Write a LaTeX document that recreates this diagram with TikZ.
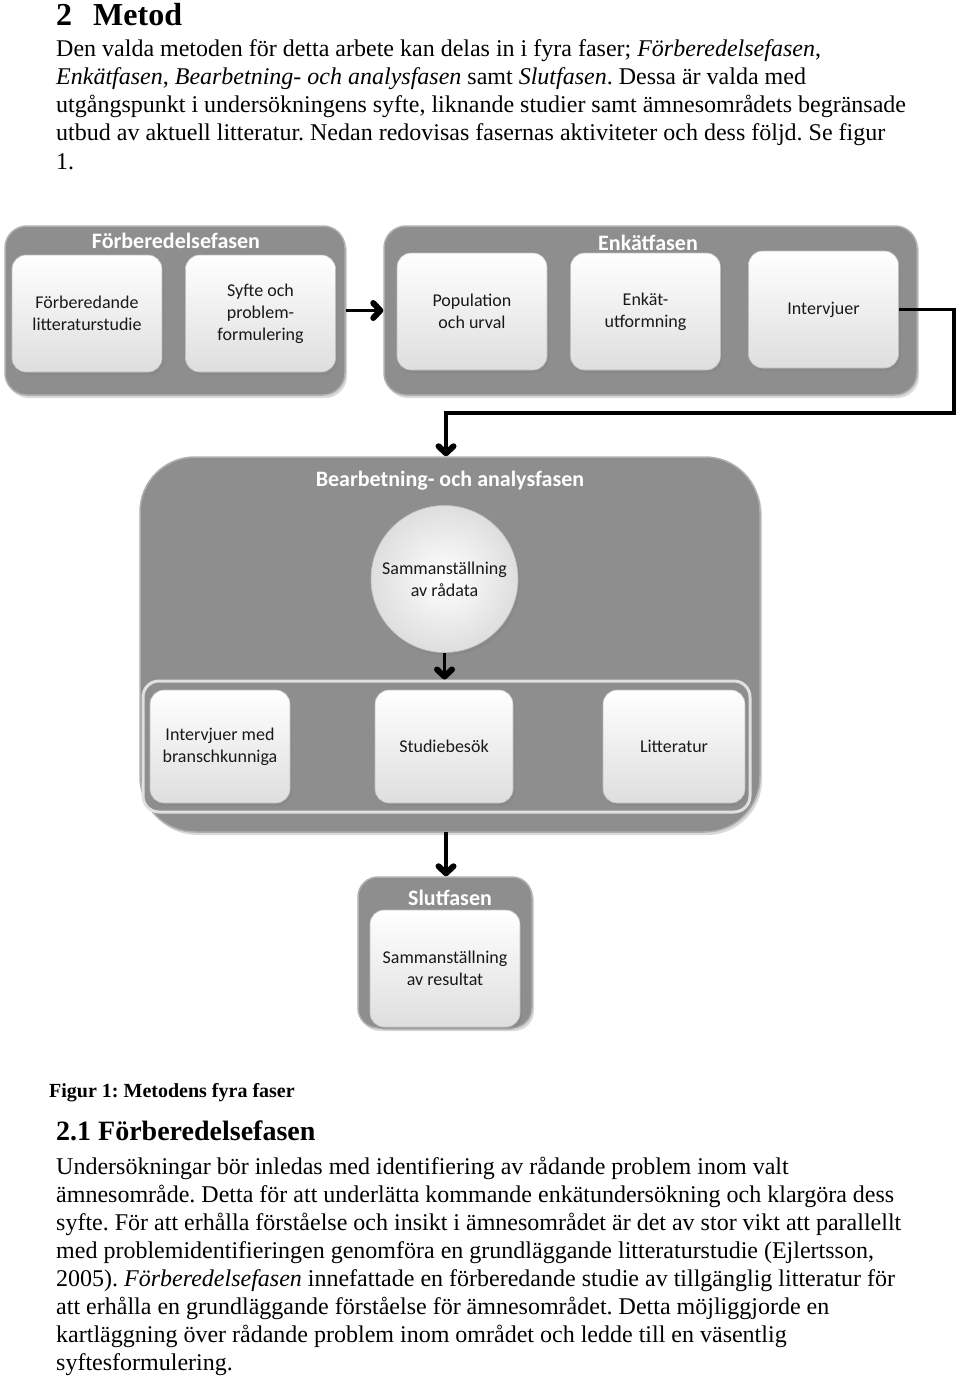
\documentclass[tikz,border=0pt]{standalone}
\usepackage{fontspec}
\setmainfont{Liberation Serif}
\newfontfamily\boxfont{Carlito}
\usetikzlibrary{arrows.meta,shadows}

\definecolor{phasegray}{RGB}{142,142,142}
\definecolor{phaserim}{RGB}{175,175,175}
\definecolor{boxgray}{RGB}{222,222,222}
\definecolor{boxedge}{RGB}{190,190,190}

\newcommand\boxtext{\boxfont\fontsize{18}{22}\selectfont}
\newcommand\boxtitle{\boxfont\bfseries\fontsize{22}{26}\selectfont}
\newcommand\bodytext{\frenchspacing\fontsize{24}{28}\selectfont}

\begin{document}
\begin{tikzpicture}[x=1pt,y=-1pt,
    phase/.style={draw=phaserim,line width=1.5pt,fill=phasegray,rounded corners=22pt,
      drop shadow={opacity=.3,shadow xshift=2pt,shadow yshift=-3pt}},
    stepbox/.style={draw=boxedge,line width=.6pt,rounded corners=14pt,
      top color=white,bottom color=boxgray,minimum width=150pt,minimum height=117pt,
      align=center,font=\boxtext,text=black!90,
      drop shadow={opacity=.35,shadow xshift=2pt,shadow yshift=-3pt}},
    phasetitle/.style={text=white,font=\boxtitle,inner sep=0pt},
    flow/.style={draw=black,line width=3.5pt,
      -{Straight Barb[length=7pt,width=15pt,line width=6pt,round]}}]

  \useasboundingbox (0,0) rectangle (960,1378);

  % page text
  \begin{scope}[every node/.style={anchor=base west,inner sep=0pt,font=\bodytext}]
    \node[font=\fontsize{32}{36}\selectfont\bfseries] (h1) at (56,26) {2\hspace{21pt}Metod};
    \node (p1) at (56,57)  {Den valda metoden för detta arbete kan delas in i fyra faser; \textit{Förberedelsefasen},};
    \node (p2) at (56,85)  {\textit{Enkätfasen}, \textit{Bearbetning- och analysfasen} samt \textit{Slutfasen}. Dessa är valda med};
    \node (p3) at (56,113) {utgångspunkt i undersökningens syfte, liknande studier samt ämnesområdets begränsade};
    \node (p4) at (56,141) {utbud av aktuell litteratur. Nedan redovisas fasernas aktiviteter och dess följd. Se figur};
    \node (p5) at (56,169) {1.};

    \node[font=\frenchspacing\fontsize{20}{24}\selectfont\bfseries] (cap) at (49,1097) {Figur 1: Metodens fyra faser};
    \node[font=\fontsize{28}{32}\selectfont\bfseries] (h2) at (56,1140) {2.1 Förberedelsefasen};
    \node (q1) at (56,1174) {Undersökningar bör inledas med identifiering av rådande problem inom valt};
    \node (q2) at (56,1202) {ämnesområde. Detta för att underlätta kommande enkätundersökning och klargöra dess};
    \node (q3) at (56,1230) {syfte. För att erhålla förståelse och insikt i ämnesområdet är det av stor vikt att parallellt};
    \node (q4) at (56,1258) {med problemidentifieringen genomföra en grundläggande litteraturstudie (Ejlertsson,};
    \node (q5) at (56,1286) {2005). \textit{Förberedelsefasen} innefattade en förberedande studie av tillgänglig litteratur för};
    \node (q6) at (56,1314) {att erhålla en grundläggande förståelse för ämnesområdet. Detta möjliggjorde en};
    \node (q7) at (56,1342) {kartläggning över rådande problem inom området och ledde till en väsentlig};
    \node (q8) at (56,1370) {syftesformulering.};
  \end{scope}

  % phases
  \node[phase,minimum width=340pt,minimum height=169pt] (forb)  at (175,310.5) {};
  \node[phase,minimum width=533pt,minimum height=169pt] (enk)   at (650.5,310.5) {};
  \node[phase,rounded corners=55pt,minimum width=620pt,minimum height=375pt] (bearb) at (450,644.5) {};
  \node[phase,rounded corners=20pt,minimum width=174pt,minimum height=151pt] (slut)  at (445,952.5) {};

  \node[phasetitle] (t1) at (176,241) {Förberedelsefasen};
  \node[phasetitle] (t2) at (648,243) {Enkätfasen};
  \node[phasetitle] (t3) at (450,481) {Bearbetning- och analysfasen};
  \node[phasetitle] (t4) at (450,898) {Slutfasen};

  \node[draw=white!88!black,line width=3pt,fill=phasegray,rounded corners=16pt,
        minimum width=607pt,minimum height=131pt] (grp) at (446.5,746.5) {};

  % steps
  \begin{scope}[every node/.style={stepbox}]
    \node (b1) at (87,313.5)    {Förberedande\\litteraturstudie};
    \node (b2) at (260.5,313.5) {Syfte och\\problem-\\formulering};
    \node (b3) at (472,311.5)   {Population\\och urval};
    \node (b4) at (645.5,311.5) {Enkät-\\utformning};
    \node (b5) at (823.5,309.5) {Intervjuer};

    \node[minimum width=140pt,minimum height=113pt] (s1) at (220,746.5) {Intervjuer med\\branschkunniga};
    \node[minimum width=138pt,minimum height=113pt] (s2) at (444,746.5) {Studiebesök};
    \node[minimum width=142pt,minimum height=113pt] (s3) at (674,746.5) {Litteratur};

    \node (r1) at (445,968.5) {Sammanställning\\av resultat};
  \end{scope}

  \node[circle,draw=boxedge,line width=.6pt,inner color=white,outer color=boxgray,
        minimum size=147pt,align=center,font=\boxtext,text=black!90,
        drop shadow={opacity=.35,shadow xshift=2pt,shadow yshift=-3pt}] (c1) at (444.5,579) {Sammanställning\\av rådata};

  % flow
  \coordinate (k1) at (954,413);
  \coordinate (k2) at (446,832);
  \draw[flow] (forb) -- (enk);
  \draw[flow] (b5.east) -| (k1) -| ([xshift=-4pt]bearb.north);
  \draw[flow] (c1) -- (grp.north -| c1);
  \draw[flow] (k2) -- (slut.north -| k2);

\end{tikzpicture}
\end{document}
